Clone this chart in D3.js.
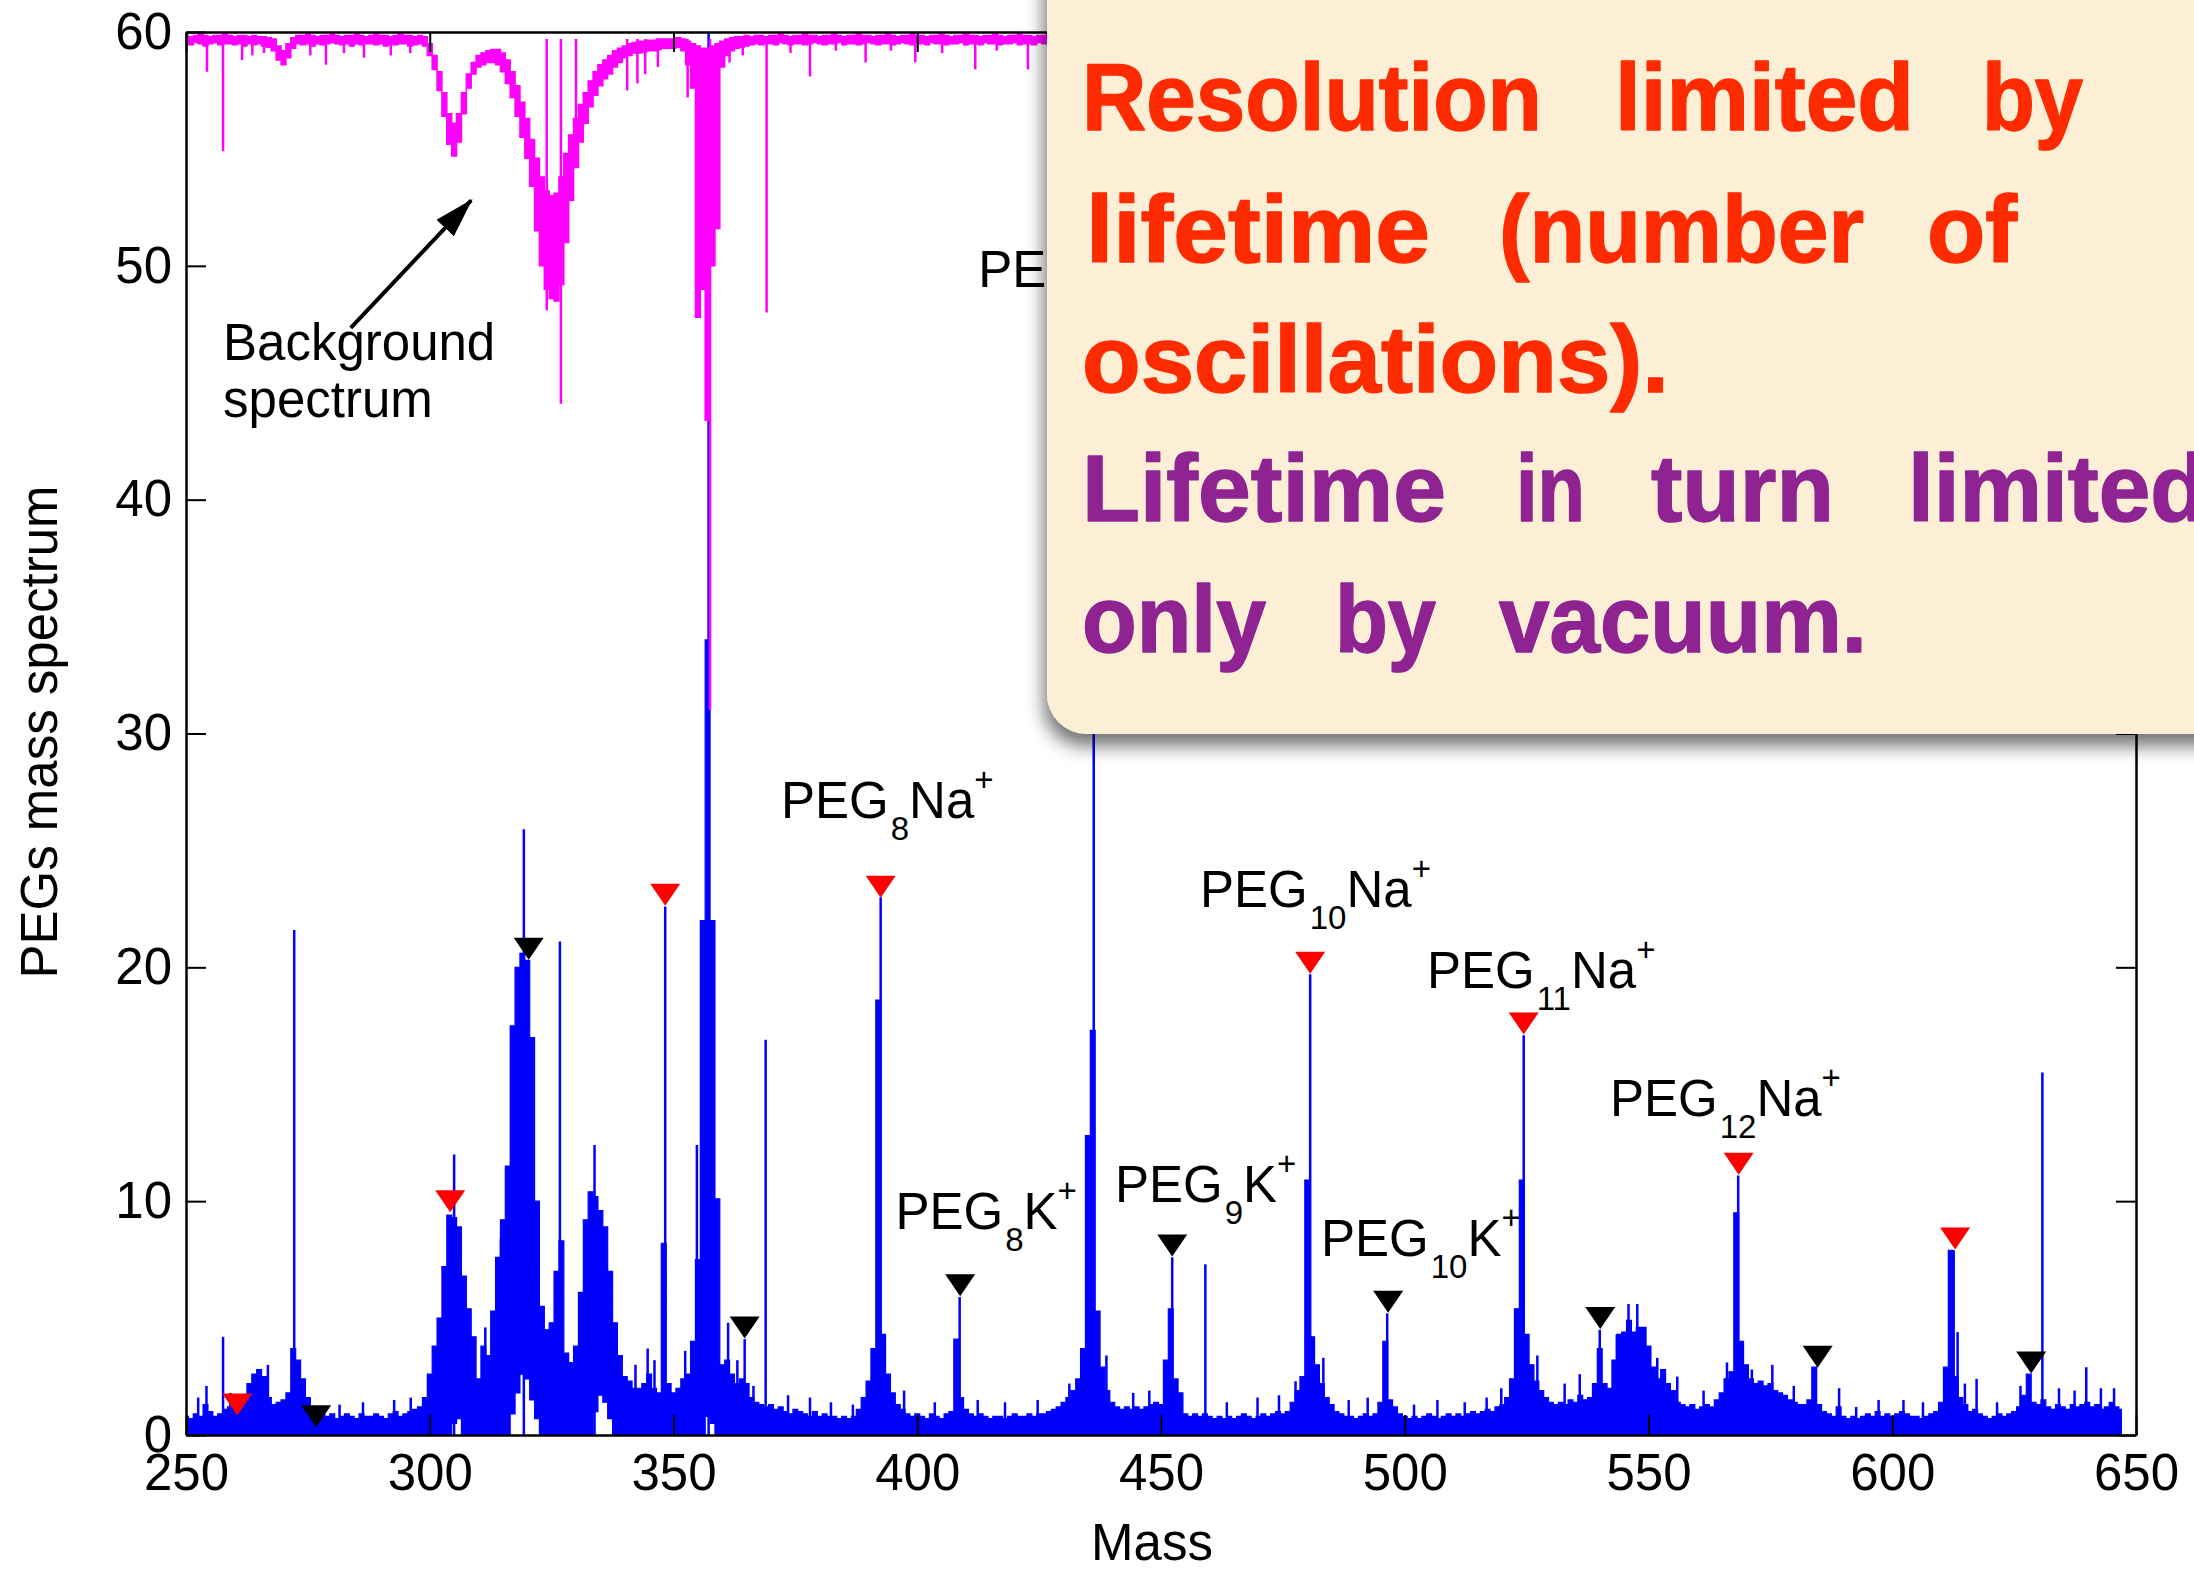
<!DOCTYPE html>
<html>
<head>
<meta charset="utf-8">
<script src="https://cdn.jsdelivr.net/npm/d3@7"></script>
<style>
  body { margin: 0; background: #fff; }
  svg { display: block; }
  text { font-family: "Liberation Sans", Arial, sans-serif; }
</style>
</head>
<body>
<script>
// axis ticks
const xTicks = [250, 300, 350, 400, 450, 500, 550, 600, 650];
const yTicks = [0, 10, 20, 30, 40, 50, 60];

// PEG spectrum (blue): upper envelope of the dense trace, one value per mass unit
const blueEnv250 = [
  0.8, 0.7, 0.9, 0.8, 1.3, 1.0, 0.8, 0.9, 1.1, 1.2,
  1.3, 1.1, 1.4, 2.2, 2.6, 2.8, 2.5, 1.6, 1.3, 1.4,
  1.5, 1.8, 3.7, 3.2, 2.4, 1.6, 1.1, 0.9, 0.9, 0.8,
  0.9, 0.7, 0.8, 0.9, 0.8, 0.7, 0.9, 0.8, 0.8, 0.9,
  0.8, 0.7, 0.9, 1.0, 0.8, 0.9, 1.0, 1.1, 1.2, 1.6,
  2.6, 3.8, 5.0, 7.2, 9.4, 9.3, 8.9, 6.8, 5.4, 4.2,
  2.4, 3.8, 3.4, 5.3, 7.6, 9.2, 11.5, 17.5, 20.0, 20.6,
  20.3, 17.0, 10.0, 5.5, 4.5, 4.8, 7.0, 8.3, 3.5, 3.1,
  3.8, 6.1, 9.2, 10.4, 10.2, 9.6, 8.9, 7.0, 4.8, 3.4,
  2.5, 2.3, 2.0, 2.0, 2.2, 2.6, 2.0, 1.8, 8.2, 2.2
];
const blueEnv350 = [
  1.8, 2.0, 2.4, 2.6, 4.0, 7.5, 22.0, 34.0, 22.0, 10.1,
  3.0, 3.2, 2.6, 2.2, 2.4, 2.2, 1.6, 1.4, 1.3, 1.2,
  1.3, 1.1, 1.2, 1.0, 0.9, 1.1, 1.0, 0.9, 0.8, 1.0,
  0.8, 0.9, 0.8, 0.8, 0.7, 0.8, 0.7, 0.8, 1.1, 1.6,
  2.3, 3.7, 18.6, 4.3, 2.6, 1.8, 1.3, 1.1, 0.9, 0.8,
  0.9, 0.8, 0.7, 0.9, 0.8, 0.7, 0.9, 1.0, 4.1, 1.6,
  1.1, 0.9, 0.8, 0.9, 0.8, 0.7, 0.8, 0.8, 0.7, 0.8,
  0.9, 0.8, 0.8, 0.9, 0.8, 0.9, 0.9, 1.0, 1.1, 1.2,
  1.4, 1.6, 1.9, 2.4, 3.7, 12.8, 17.3, 5.3, 2.9, 1.9,
  1.4, 1.2, 1.1, 1.2, 1.1, 1.2, 1.1, 1.2, 1.3, 1.4
];
const blueEnv450 = [
  1.3, 3.2, 5.4, 2.4, 1.8, 0.9, 0.8, 0.9, 0.8, 0.9,
  0.8, 0.7, 0.8, 0.7, 0.8, 0.7, 0.8, 0.9, 0.8, 0.7,
  0.8, 0.9, 0.8, 0.9, 1.0, 0.9, 1.0, 1.4, 1.9, 2.5,
  10.9, 4.2, 3.0, 2.2, 1.6, 1.3, 1.0, 0.9, 0.8, 0.8,
  0.7, 0.8, 0.9, 0.8, 0.9, 1.4, 4.0, 1.5, 1.2, 0.9,
  0.8, 0.7, 0.8, 0.7, 0.8, 0.9, 0.8, 0.7, 0.8, 0.9,
  0.8, 0.9, 0.8, 0.9, 1.0, 0.9, 1.0, 1.1, 1.0, 1.2,
  1.3, 1.6, 2.4, 5.4, 10.9, 4.3, 3.0, 2.3, 1.9, 1.6,
  1.4, 1.3, 1.4, 1.3, 1.5, 1.4, 1.7, 1.5, 1.6, 2.2,
  3.7, 2.2, 2.0, 3.2, 4.3, 4.4, 4.9, 4.4, 4.6, 4.6
];
const blueEnv550 = [
  3.8, 2.9, 2.4, 2.8, 2.2, 1.9, 1.4, 1.3, 1.2, 1.3,
  1.1, 1.2, 1.3, 1.2, 1.5, 1.8, 2.4, 2.7, 9.5, 4.0,
  3.0, 2.4, 2.2, 2.3, 2.1, 2.2, 1.9, 1.8, 1.7, 1.5,
  1.4, 1.3, 1.3, 1.5, 2.9, 1.3, 1.0, 0.9, 0.8, 1.2,
  0.8, 0.7, 0.8, 0.7, 0.8, 0.9, 0.8, 1.0, 0.8, 0.9,
  0.8, 0.9, 1.0, 0.9, 0.8, 0.8, 0.7, 0.8, 0.9, 1.0,
  1.4, 2.9, 7.9, 2.5, 1.6, 1.3, 1.0, 1.1, 0.9, 0.8,
  0.7, 0.8, 0.9, 0.8, 0.9, 1.0, 1.2, 1.7, 2.6, 1.4,
  1.3, 1.5, 1.2, 1.1, 1.3, 1.2, 1.1, 1.3, 1.2, 1.3,
  1.4, 1.2, 1.3, 1.1, 1.2, 1.4, 1.2, 1.1
];
// where the dense trace leaves a gap above zero: [mass, lower edge]
const blueLow = [
  [305, 0.5], [306, 0.7], [317, 0.9], [318, 1.8], [319, 2.6], [320, 2.4], [321, 1.5],
  [322, 0.7], [334, 1.0], [335, 1.7], [336, 1.4], [337, 0.7], [357, 0.8], [358, 0.5]
];
// narrow single spikes [mass, height]
const bluePeaks = [
  [254.2, 2.1], [257.6, 4.2], [272.2, 21.6], [305.0, 12.0], [311.4, 4.6], [319.3, 25.9],
  [326.7, 21.1], [333.8, 12.4], [344.7, 3.7], [348.3, 22.6], [354.8, 12.4], [357.2, 62],
  [361.2, 4.8], [364.6, 4.1], [368.9, 16.9], [392.5, 23.0], [408.7, 5.9], [436.2, 46.0],
  [452.3, 7.6], [459.1, 7.3], [480.6, 19.7], [496.4, 5.2], [524.4, 17.1], [540.0, 4.5],
  [545.9, 5.6], [547.7, 5.6], [568.4, 11.1], [584.2, 2.9], [612.6, 7.9], [613.4, 4.4],
  [617.3, 2.4], [630.8, 15.5], [639.8, 2.9]
];
const blueNoise = [
  [252.5, 1.6], [259.1, 1.8], [266.8, 3.0], [281.5, 1.3], [286.3, 1.4], [292.7, 1.5],
  [296.1, 1.6], [314.6, 8.4], [330.8, 5.0], [342.2, 3.0], [346.1, 3.2], [352.4, 3.6],
  [363.1, 3.2], [366.4, 2.1], [373.5, 1.7], [378.0, 1.6], [382.3, 1.4], [386.8, 1.3],
  [397.3, 1.9], [403.6, 1.4], [412.4, 1.5], [418.0, 1.4], [424.7, 1.5], [431.2, 2.2],
  [438.8, 3.4], [444.3, 1.8], [447.6, 1.9], [463.5, 1.4], [469.8, 1.6], [474.2, 1.7],
  [477.6, 2.3], [483.3, 3.3], [488.5, 1.5], [492.4, 1.6], [501.9, 1.3], [506.7, 1.5],
  [512.3, 1.4], [516.8, 1.6], [519.8, 2.0], [527.2, 3.4], [532.8, 2.2], [535.9, 2.6],
  [543.5, 4.3], [551.8, 3.3], [555.9, 2.5], [561.3, 1.9], [566.1, 3.1], [571.2, 2.8],
  [575.4, 3.0], [579.8, 2.1], [589.1, 2.0], [592.6, 1.2], [597.2, 1.5], [602.3, 1.5],
  [606.3, 1.4], [614.9, 2.2], [621.5, 1.4], [626.3, 2.1], [634.2, 2.0], [637.4, 1.9],
  [642.8, 2.0], [645.5, 2.0]
];

// peak markers (triangles)
const naMass = [260.5, 304.2, 348.3, 392.5, 436.2, 480.6, 524.4, 568.5, 612.9];
const naValue = [1.3, 10.0, 23.1, 23.45, 46.5, 20.2, 17.6, 11.6, 8.4];
const kMass = [276.7, 320.3, 364.6, 408.8, 452.3, 496.6, 540.1, 584.7, 628.5];
const kValue = [0.8, 20.8, 4.6, 6.4, 8.1, 5.7, 5.0, 3.35, 3.1];

// background spectrum (magenta), 250..440, top and bottom edge of the band
const magHi = [
  59.85, 59.8, 59.85, 59.9, 59.85, 59.8, 59.85, 59.85, 59.9, 59.85,
  59.8, 59.85, 59.85, 59.8, 59.85, 59.8, 59.8, 59.75, 59.7, 59.4,
  59.2, 59.5, 59.75, 59.85, 59.85, 59.9, 59.85, 59.8, 59.85, 59.85,
  59.9, 59.85, 59.8, 59.85, 59.85, 59.9, 59.85, 59.8, 59.85, 59.9,
  59.85, 59.85, 59.8, 59.85, 59.9, 59.85, 59.85, 59.8, 59.85, 59.8,
  59.5, 59.0, 58.3, 57.4, 56.5, 56.1, 56.5, 57.4, 58.2, 58.7,
  59.0, 59.1, 59.2, 59.25, 59.25, 59.1, 58.8, 58.3, 57.7, 57.0,
  56.3, 55.4, 54.6, 53.8, 53.2, 53.0, 53.1, 53.8, 54.8, 55.6,
  56.3, 56.9, 57.4, 57.9, 58.3, 58.6, 58.8, 59.0, 59.2, 59.3,
  59.4, 59.5, 59.55, 59.6, 59.6, 59.65, 59.65, 59.7, 59.7, 59.7,
  59.7, 59.75, 59.7, 59.6, 59.5, 59.4, 59.3, 59.3, 59.4, 59.5,
  59.6, 59.7, 59.75, 59.8, 59.8, 59.85, 59.8, 59.85, 59.85, 59.8,
  59.85, 59.85, 59.9, 59.85, 59.8, 59.85, 59.85, 59.9, 59.85, 59.85,
  59.8, 59.85, 59.85, 59.9, 59.85, 59.8, 59.85, 59.85, 59.9, 59.85,
  59.85, 59.8, 59.85, 59.85, 59.9, 59.85, 59.8, 59.85, 59.85, 59.9,
  59.85, 59.85, 59.8, 59.85, 59.85, 59.9, 59.85, 59.8, 59.85, 59.85,
  59.9, 59.85, 59.85, 59.8, 59.85, 59.85, 59.9, 59.85, 59.8, 59.85,
  59.85, 59.9, 59.85, 59.85, 59.8, 59.85, 59.85, 59.9, 59.85, 59.8,
  59.85, 59.85, 59.9, 59.85, 59.85, 59.8, 59.85, 59.85, 59.9, 59.85,
  59.85
];
const magLo = [
  59.5, 59.45, 59.55, 59.5, 59.4, 59.5, 59.55, 59.45, 59.5, 59.5,
  59.45, 59.5, 59.4, 59.5, 59.45, 59.5, 59.4, 59.35, 59.2, 58.8,
  58.6, 58.9, 59.3, 59.5, 59.45, 59.5, 59.4, 59.5, 59.45, 59.5,
  59.55, 59.5, 59.45, 59.5, 59.4, 59.5, 59.45, 59.5, 59.5, 59.45,
  59.5, 59.4, 59.5, 59.45, 59.5, 59.5, 59.4, 59.45, 59.5, 59.4,
  59.0, 58.4, 57.5, 56.4, 55.2, 54.7, 55.3, 56.5, 57.6, 58.2,
  58.5, 58.6, 58.7, 58.7, 58.6, 58.3, 57.8, 57.2, 56.4, 55.5,
  54.6, 53.4, 51.5, 50.0, 49.0, 48.6, 48.5, 49.2, 51.0, 52.8,
  54.2, 55.3, 56.1, 56.8, 57.3, 57.7, 58.0, 58.2, 58.5, 58.7,
  58.9, 59.0, 59.1, 59.1, 59.15, 59.2, 59.2, 59.25, 59.3, 59.3,
  59.3, 59.35, 59.2, 58.6, 57.6, 47.8, 49.0, 43.4, 50.0, 51.6,
  58.5, 59.0, 59.2, 59.3, 59.35, 59.4, 59.45, 59.5, 59.45, 59.5,
  59.5, 59.45, 59.55, 59.5, 59.45, 59.5, 59.5, 59.45, 59.5, 59.55,
  59.5, 59.45, 59.5, 59.5, 59.55, 59.45, 59.5, 59.5, 59.45, 59.5,
  59.55, 59.5, 59.45, 59.5, 59.5, 59.45, 59.5, 59.55, 59.5, 59.45,
  59.5, 59.5, 59.45, 59.55, 59.5, 59.5, 59.45, 59.5, 59.5, 59.55,
  59.45, 59.5, 59.5, 59.45, 59.55, 59.5, 59.5, 59.45, 59.5, 59.5,
  59.55, 59.45, 59.5, 59.5, 59.45, 59.55, 59.5, 59.5, 59.45, 59.5,
  59.5, 59.55, 59.45, 59.5, 59.5, 59.45, 59.5, 59.55, 59.5, 59.5,
  59.5
];
// thin downward spikes of the background trace [mass, lowest value]
const magSpikes = [
  [254.3, 58.3], [257.6, 54.9], [261.5, 58.8], [263.6, 59.0], [266.0, 59.1], [275.5, 59.0],
  [278.7, 58.6], [282.4, 59.1], [286.5, 58.9], [292.0, 59.0], [296.0, 59.1], [324.0, 48.1],
  [326.9, 44.1], [330.0, 54.7], [340.5, 57.5], [342.6, 57.8], [344.2, 58.2], [346.8, 58.5],
  [352.9, 57.2], [357.5, 31.0], [361.5, 58.7], [364.2, 59.0], [369.1, 48.0], [374.0, 59.1],
  [378.0, 58.1], [383.3, 59.2], [389.4, 58.7], [394.6, 59.2], [399.6, 58.7], [405.1, 59.1],
  [411.9, 58.4], [416.3, 59.2], [422.7, 58.4], [428.0, 59.1], [433.5, 59.2]
];

// annotations: [subscript, ion, mass, value at baseline]
const pegLabels = [
  ["9", "Na", 412.5, 49.1], ["8", "Na", 372.05, 26.39], ["10", "Na", 458.0, 22.58],
  ["11", "Na", 504.56, 19.12], ["12", "Na", 542.1, 13.64], ["8", "K", 395.54, 8.81],
  ["9", "K", 440.56, 9.97], ["10", "K", 482.82, 7.66]
];
const bgLines = ["Background", "spectrum"];
const bgLineValues = [45.98, 43.54];
const bgLabelMass = 257.6;
const bgArrow = [[283.8, 47.35], [308.5, 52.8]];

// callout
const calloutText = [
  ["Resolution", "limited", "by"],
  ["lifetime", "(number", "of"],
  ["oscillations)."],
  ["Lifetime", "in", "turn", "limited"],
  ["only", "by", "vacuum."]
];
const calloutColors = ["#ff2b00", "#ff2b00", "#ff2b00", "#8e2391", "#8e2391"];
// word spans measured on the slide (px)
const calloutSpans = [
  [[1082, 1542], [1615, 1914], [1982, 2083]],
  [[1086, 1430], [1499, 1864], [1927, 2017]],
  [[1082, 1669]],
  [[1082, 1446], [1516, 1585], [1651, 1834], [1908, 2207]],
  [[1082, 1266], [1335, 1436], [1499, 1867]]
];
const calloutBaselines = [130, 262, 392, 521, 652];

//---------------------------------------------------------------
const width = 2194, height = 1572;
const pLeft = 186, pRight = 2136, pTop = 32, pBottom = 1435;

const svg = d3.select('body').append('svg')
  .attr('width', width)
  .attr('height', height);

const x = d3.scaleLinear().domain([250, 650]).range([pLeft, pRight]);
const y = d3.scaleLinear().domain([0, 60]).range([pBottom, pTop]);

const defs = svg.append('defs');
defs.append('clipPath').attr('id', 'plotclip')
  .append('rect')
  .attr('x', pLeft).attr('y', pTop)
  .attr('width', pRight - pLeft).attr('height', pBottom - pTop + 1);

const shadow = defs.append('filter').attr('id', 'shadow')
  .attr('x', '-10%').attr('y', '-10%').attr('width', '130%').attr('height', '130%');
shadow.append('feDropShadow')
  .attr('dx', -3).attr('dy', 12).attr('stdDeviation', 9)
  .attr('flood-color', '#000').attr('flood-opacity', 0.55);

defs.append('marker').attr('id', 'arrowhead')
  .attr('markerUnits', 'userSpaceOnUse')
  .attr('markerWidth', 44).attr('markerHeight', 26)
  .attr('refX', 38).attr('refY', 12)
  .attr('orient', 'auto')
  .append('path')
  .attr('d', 'M0,0 L40,12 L0,24 Z')
  .attr('fill', '#000');

// build envelope points
let blueData = [];
[[250, blueEnv250], [350, blueEnv350], [450, blueEnv450], [550, blueEnv550]].forEach(([start, arr]) => {
  arr.forEach((v, i) => blueData.push({ m: start + i, hi: v }));
});
const lowMap = new Map(blueLow);
blueData.forEach(d => { d.lo = lowMap.get(d.m) || 0; });

const magData = magHi.map((v, i) => ({ m: 250 + i, hi: v, lo: magLo[i] }));

const plot = svg.append('g').attr('clip-path', 'url(#plotclip)');

//blue dense trace
plot.append('path')
  .datum(blueData)
  .attr('d', d3.area().curve(d3.curveStep)
    .x(d => x(d.m)).y0(d => y(d.lo)).y1(d => y(d.hi)))
  .attr('fill', '#0000ff')
  .attr('stroke', '#0000ff')
  .attr('stroke-width', 1.2);

plot.append('g')
  .selectAll('line')
  .data(bluePeaks.concat(blueNoise))
  .join('line')
  .attr('x1', d => x(d[0])).attr('x2', d => x(d[0]))
  .attr('y1', y(0)).attr('y2', d => y(d[1]))
  .attr('stroke', '#0000ff')
  .attr('stroke-width', 2.5);

//markers
const tri = 'M-15,-11 L15,-11 L0,11 Z';
plot.append('g').selectAll('path')
  .data(naMass.map((m, i) => [m, naValue[i]]))
  .join('path')
  .attr('d', tri)
  .attr('transform', d => `translate(${x(d[0])},${y(d[1])})`)
  .attr('fill', '#ff0000');
plot.append('g').selectAll('path')
  .data(kMass.map((m, i) => [m, kValue[i]]))
  .join('path')
  .attr('d', tri)
  .attr('transform', d => `translate(${x(d[0])},${y(d[1])})`)
  .attr('fill', '#000');

//magenta background spectrum
plot.append('path')
  .datum(magData)
  .attr('d', d3.area().curve(d3.curveStep)
    .x(d => x(d.m)).y0(d => y(d.lo)).y1(d => y(d.hi)))
  .attr('fill', '#ff00ff')
  .attr('stroke', '#ff00ff')
  .attr('stroke-width', 1.5);

plot.append('g')
  .selectAll('line')
  .data(magSpikes)
  .join('line')
  .attr('x1', d => x(d[0])).attr('x2', d => x(d[0]))
  .attr('y1', y(59.7)).attr('y2', d => y(d[1]))
  .attr('stroke', '#ff00ff')
  .attr('stroke-width', 2.5);

//axes: ticks inside, box on all sides
function styleAxis(g) {
  g.attr('font-size', 51).attr('font-family', '"Liberation Sans", Arial, sans-serif');
  g.select('.domain').attr('stroke', '#000').attr('stroke-width', 2.5);
  g.selectAll('.tick line').attr('stroke', '#000').attr('stroke-width', 2);
  g.selectAll('.tick text').attr('fill', '#000');
}
svg.append('g')
  .attr('transform', `translate(0,${pBottom})`)
  .call(d3.axisBottom(x).tickValues(xTicks).tickSizeInner(-20).tickSizeOuter(0).tickPadding(19))
  .call(styleAxis);
svg.append('g')
  .attr('transform', `translate(0,${pTop})`)
  .call(d3.axisTop(x).tickValues(xTicks).tickSizeInner(-20).tickSizeOuter(0).tickFormat(''))
  .call(styleAxis);
svg.append('g')
  .attr('transform', `translate(${pLeft},0)`)
  .call(d3.axisLeft(y).tickValues(yTicks).tickSizeInner(-20).tickSizeOuter(0).tickPadding(14))
  .call(styleAxis);
svg.append('g')
  .attr('transform', `translate(${pRight},0)`)
  .call(d3.axisRight(y).tickValues(yTicks).tickSizeInner(-20).tickSizeOuter(0).tickFormat(''))
  .call(styleAxis);

//axis titles
svg.append('text')
  .attr('x', 1152).attr('y', 1560)
  .attr('text-anchor', 'middle')
  .attr('font-size', 51)
  .text('Mass');
svg.append('text')
  .attr('transform', 'translate(57,732) rotate(-90)')
  .attr('text-anchor', 'middle')
  .attr('font-size', 51)
  .text('PEGs mass spectrum');

//peak labels with sub/superscripts
const labels = svg.append('g').attr('font-size', 51).attr('fill', '#000');
pegLabels.forEach(([n, ion, m, v]) => {
  const t = labels.append('text').attr('x', x(m)).attr('y', y(v));
  t.append('tspan').text('PEG');
  t.append('tspan').attr('font-size', 33).attr('dx', 2).attr('dy', 22).text(n);
  t.append('tspan').attr('dy', -22).text(ion);
  t.append('tspan').attr('font-size', 33).attr('dy', -27).text('+');
});

//background annotation
bgLines.forEach((s, i) => {
  svg.append('text')
    .attr('x', x(bgLabelMass)).attr('y', y(bgLineValues[i]))
    .attr('font-size', 51)
    .text(s);
});
svg.append('line')
  .attr('x1', x(bgArrow[0][0])).attr('y1', y(bgArrow[0][1]))
  .attr('x2', x(bgArrow[1][0])).attr('y2', y(bgArrow[1][1]))
  .attr('stroke', '#000')
  .attr('stroke-width', 4)
  .attr('marker-end', 'url(#arrowhead)');

//callout box on top
const callout = svg.append('g');
callout.append('rect')
  .attr('x', 1047).attr('y', -200)
  .attr('width', 1400).attr('height', 934)
  .attr('rx', 40).attr('ry', 40)
  .attr('fill', '#fdefd5')
  .attr('filter', 'url(#shadow)');

calloutText.forEach((words, li) => {
  words.forEach((w, wi) => {
    const span = calloutSpans[li][wi];
    callout.append('text')
      .attr('x', span[0]).attr('y', calloutBaselines[li])
      .attr('textLength', span[1] - span[0])
      .attr('lengthAdjust', 'spacingAndGlyphs')
      .attr('font-family', '"Noto Sans", "DejaVu Sans", sans-serif')
      .attr('font-weight', 'bold')
      .attr('font-size', 94)
      .attr('fill', calloutColors[li])
      .attr('stroke', calloutColors[li])
      .attr('stroke-width', 1.5)
      .attr('stroke-linejoin', 'round')
      .text(w);
  });
});
</script>
</body>
</html>
